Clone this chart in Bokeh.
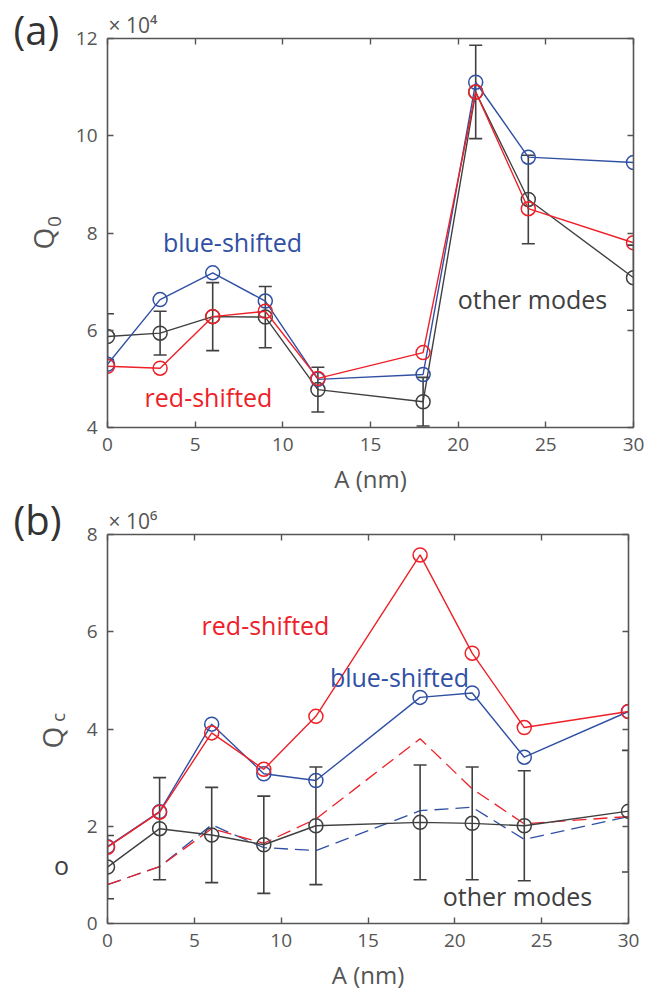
import numpy as np
from bokeh.plotting import figure
from bokeh.layouts import column, row
from bokeh.models import Label, LinearAxis, Range1d, FixedTicker, CustomJSTickFormatter
from bokeh.embed import file_html
from bokeh.resources import INLINE

# ---------------- data ----------------
A_nm = [0, 3, 6, 9, 12, 18, 21, 24, 30]

# panel (a): Q0 in units of 1e4
q0_blue = [5.30, 6.63, 7.18, 6.60, 4.99, 5.09, 11.10, 9.56, 9.45]
q0_red = [5.26, 5.22, 6.28, 6.39, 5.01, 5.54, 10.90, 8.50, 7.80]
q0_other = [5.87, 5.94, 6.28, 6.27, 4.78, 4.53, 10.90, 8.69, 7.08]
q0_other_err = [0.47, 0.45, 0.70, 0.63, 0.46, 0.50, 0.96, 0.91, 0.67]

# panel (b): Qc in units of 1e6
qc_red = [1.57, 2.29, 3.92, 3.17, 4.26, 7.58, 5.56, 4.03, 4.36]
qc_blue = [1.58, 2.30, 4.10, 3.08, 2.94, 4.65, 4.74, 3.42, 4.36]
qc_other = [1.16, 1.95, 1.82, 1.62, 2.01, 2.08, 2.06, 2.01, 2.31]
qc_other_err = [0.65, 1.05, 0.98, 1.00, 1.21, 1.18, 1.16, 1.13, 1.25]
qc_red_dash = [0.80, 1.17, 1.95, 1.65, 2.15, 3.80, 2.77, 2.05, 2.20]
qc_blue_dash = [0.80, 1.17, 2.03, 1.56, 1.50, 2.32, 2.39, 1.73, 2.20]

x_ticks = [0, 5, 10, 15, 20, 25, 30]
y_ticks_a = [4, 6, 8, 10, 12]
y_ticks_b = [0, 2, 4, 6, 8]

FONT = "Open Sans"
BLUE = "#3050A3"
RED = "#EE2028"
DARK = "#404040"
AXIS = "#555555"
TICKTXT = "#555555"
LEFT_W = 71
PANEL_H = 498
LEFT_SPLIT = 465   # height of the upper text strip on the left


def style_axis(ax):
    ax.axis_line_color = AXIS
    ax.axis_line_width = 1.6
    ax.major_tick_line_color = AXIS
    ax.major_tick_line_width = 1.4
    ax.major_tick_in = 6
    ax.major_tick_out = 0
    ax.minor_tick_line_color = None
    ax.minor_tick_in = 0
    ax.minor_tick_out = 0


def make_fig(ymin, ymax, yticks, top, bottom, right, mult):
    p = figure(width=655 - LEFT_W, height=PANEL_H, x_range=Range1d(0, 30),
               y_range=Range1d(ymin, ymax),
               output_backend="svg", toolbar_location=None,
               min_border_left=107 - LEFT_W, min_border_right=right,
               min_border_top=top, min_border_bottom=bottom)
    p.xgrid.visible = False
    p.ygrid.visible = False
    p.outline_line_color = None
    p.xaxis.ticker = FixedTicker(ticks=x_ticks)
    p.yaxis.ticker = FixedTicker(ticks=yticks)
    for ax in list(p.xaxis) + list(p.yaxis):
        style_axis(ax)
        ax.major_label_text_font = FONT
        ax.major_label_text_font_size = "19px"
        ax.major_label_text_color = TICKTXT
        ax.major_label_standoff = 10
    xa = p.xaxis[0]
    xa.axis_label = "A (nm)"
    xa.axis_label_text_font = FONT
    xa.axis_label_text_font_size = "24px"
    xa.axis_label_text_font_style = "normal"
    xa.axis_label_text_color = TICKTXT
    xa.axis_label_standoff = 8
    for loc, tk in (("above", x_ticks), ("right", yticks)):
        ax = LinearAxis(ticker=FixedTicker(ticks=tk),
                        formatter=CustomJSTickFormatter(code="return ''"))
        style_axis(ax)
        ax.major_label_text_font_size = "0px"
        ax.major_label_standoff = 0
        p.add_layout(ax, loc)
    p.title.text = mult
    p.title.align = "left"
    p.title.offset = 1
    p.title.text_font = FONT
    p.title.text_font_size = "21px"
    p.title.text_font_style = "normal"
    p.title.text_color = TICKTXT
    p.title.standoff = 0
    p.title.vertical_align = "bottom"
    return p


def make_left(h):
    q = figure(width=LEFT_W, height=h, x_range=Range1d(0, LEFT_W),
               y_range=Range1d(0, h),
               output_backend="svg", toolbar_location=None,
               min_border_left=0, min_border_right=0, min_border_top=0, min_border_bottom=0,
               x_axis_location=None, y_axis_location=None)
    q.xgrid.visible = False
    q.ygrid.visible = False
    q.outline_line_color = None
    return q


def add_series(p, x, y, color, dash=None, markers=True, lw=1.4):
    if dash:
        p.line(x, y, line_color=color, line_width=lw, line_dash=dash)
    else:
        p.line(x, y, line_color=color, line_width=lw)
    if markers:
        p.scatter(x, y, marker="circle", size=14, fill_color=None,
                  line_color=color, line_width=1.5)


def add_errbars(p, x, y, err, color):
    y = np.array(y)
    e = np.array(err)
    lo, hi = y - e, y + e
    p.segment(x0=x, y0=lo, x1=x, y1=hi, line_color=color, line_width=1.6)
    p.scatter(x, lo, marker="dash", size=13, line_color=color, line_width=1.6)
    p.scatter(x, hi, marker="dash", size=13, line_color=color, line_width=1.6)


def lab(p, px, py, text, color, size, conv, align="left", baseline="alphabetic",
        angle=0.0):
    if baseline == "alphabetic" and angle == 0.0:
        py = py - 0.36 * size   # compensate renderer's baseline offset
    x, y = conv(px, py)
    p.add_layout(Label(x=x, y=y, text=text, text_color=color, text_font=FONT,
                       text_font_size=f"{size}px", text_align=align,
                       text_baseline=baseline, angle=angle))


# ---------------- panel (a) ----------------
pa = make_fig(4, 12, y_ticks_a, top=38, bottom=71, right=22, mult="× 10⁴")
la = make_left(LEFT_SPLIT)


def conv_a(px, py):
    return (px - 107) / 526 * 30, 4 + (427 - py) / 389 * 8


def loc_a(px, py):
    return px, LEFT_SPLIT - py


add_series(pa, A_nm, q0_other, DARK)
add_errbars(pa, A_nm, q0_other, q0_other_err, DARK)
add_series(pa, A_nm, q0_blue, BLUE)
add_series(pa, A_nm, q0_red, RED)

lab(pa, 232, 250, "blue-shifted", BLUE, 25, conv_a, align="center")
lab(pa, 208, 405, "red-shifted", RED, 25, conv_a, align="center")
lab(pa, 532, 307, "other modes", DARK, 25, conv_a, align="center")

lab(la, 13, 43, "(a)", "#333333", 40, loc_a)
lab(la, 42, 238, "Q", TICKTXT, 28, loc_a, align="center", baseline="middle", angle=np.pi / 2)
lab(la, 54, 221, "0", TICKTXT, 19, loc_a, align="center", baseline="middle", angle=np.pi / 2)

# ---------------- panel (b) ----------------
pb = make_fig(0, 8, y_ticks_b, top=36, bottom=73, right=27, mult="× 10⁶")
lb = make_left(996 - LEFT_SPLIT)


def conv_b(px, py):
    return (px - 107) / 521 * 30, (923 - py) / 389 * 8


def loc_b(px, py):
    return px, 996 - py


add_series(pb, A_nm, qc_blue_dash, BLUE, dash="14 7", markers=False, lw=1.3)
add_series(pb, A_nm, qc_red_dash, RED, dash="14 7", markers=False, lw=1.3)
add_series(pb, A_nm, qc_other, DARK)
add_errbars(pb, A_nm, qc_other, qc_other_err, DARK)
add_series(pb, A_nm, qc_blue, BLUE)
add_series(pb, A_nm, qc_red, RED)

lab(pb, 265, 633, "red-shifted", RED, 25, conv_b, align="center")
lab(pb, 399, 685, "blue-shifted", BLUE, 25, conv_b, align="center")
lab(pb, 517, 904, "other modes", DARK, 25, conv_b, align="center")

lab(lb, 13, 533, "(b)", "#333333", 40, loc_b)
lab(lb, 51, 737, "Q", TICKTXT, 28, loc_b, align="center", baseline="middle", angle=np.pi / 2)
lab(lb, LEFT_W - 0.5, 717, "c", TICKTXT, 19, loc_b, align="center", baseline="bottom", angle=np.pi / 2)
lab(lb, 61, 873, "o", DARK, 25, loc_b, align="center")

layout = row(column(row(la), row(lb), spacing=0),
             column(row(pa), row(pb), spacing=0), spacing=0)
open("out.html", "w").write(file_html(layout, INLINE))
